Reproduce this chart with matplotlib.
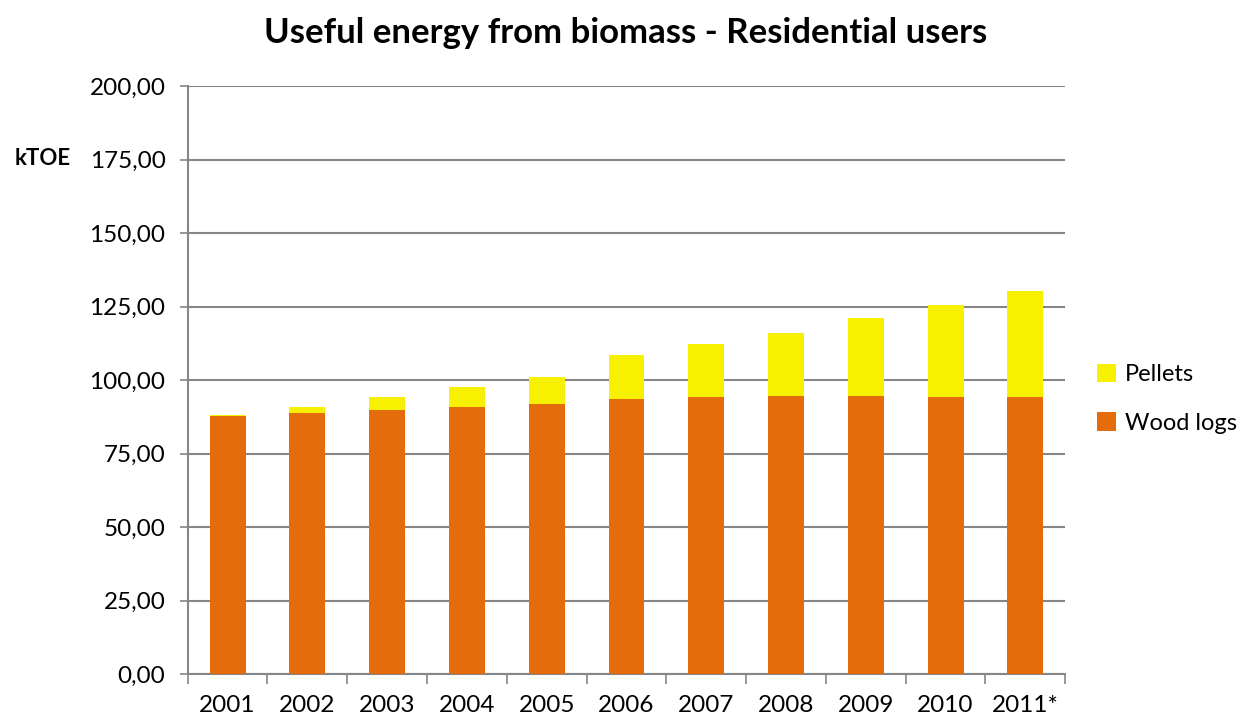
import matplotlib
matplotlib.use("Agg")
import matplotlib.pyplot as plt
import numpy as np

years = ["2001", "2002", "2003", "2004", "2005", "2006", "2007", "2008", "2009", "2010", "2011*"]
wood_logs = [87.8, 88.7, 89.8, 91.0, 91.9, 93.4, 94.4, 94.7, 94.7, 94.3, 94.3]
pellets = [0.2, 2.3, 4.5, 6.7, 9.1, 15.1, 17.9, 21.4, 26.5, 31.2, 36.1]
yticks = [0, 25, 50, 75, 100, 125, 150, 175, 200]

plt.rcParams['font.family'] = ['Lato', 'DejaVu Sans']

fig = plt.figure(figsize=(12.43, 7.19), dpi=100)
ax = fig.add_axes([0.151, 0.0626, 0.706, 0.8175])

x = np.arange(len(years))
ax.bar(x, wood_logs, width=0.45, color="#E46C0A", label="Wood logs", zorder=3)
ax.bar(x, pellets, width=0.45, bottom=wood_logs, color="#F7F000", label="Pellets", zorder=3)

ax.set_xlim(-0.5, len(years) - 0.5)
ax.set_ylim(0, 200)
ax.set_yticks(yticks)
ax.set_yticklabels([f"{v:.2f}".replace(".", ",") for v in yticks], fontsize=17.5)
ax.yaxis.grid(True, color="#868686", linewidth=1.5, zorder=0)

ax.set_xticks(x)
ax.set_xticklabels(years, fontsize=17.5)
ax.tick_params(axis="x", length=0, pad=15)
ax.set_xticks(np.arange(len(years) + 1) - 0.5, minor=True)
ax.tick_params(axis="x", which="minor", length=7, color="#868686", width=1.2)
ax.tick_params(axis="y", length=6, color="#868686", width=1.2, pad=10)

for s in ["top", "right"]:
    ax.spines[s].set_visible(False)
for s in ["left", "bottom"]:
    ax.spines[s].set_color("#868686")
    ax.spines[s].set_linewidth(1.5)

fig.text(0.503, 0.954, "Useful energy from biomass - Residential users", ha="center", va="center",
         fontsize=25, fontweight="bold")
fig.text(0.034, 0.78, "kTOE", ha="center", va="center", fontsize=16, fontweight="bold")

handles, labels = ax.get_legend_handles_labels()
leg = ax.legend(handles[::-1], labels[::-1], loc="center left", bbox_to_anchor=(1.012, 0.468),
                frameon=False, fontsize=17, handlelength=0.8, handleheight=0.8,
                handletextpad=0.4, labelspacing=1.15)

fig.savefig("out.png", dpi=100)
